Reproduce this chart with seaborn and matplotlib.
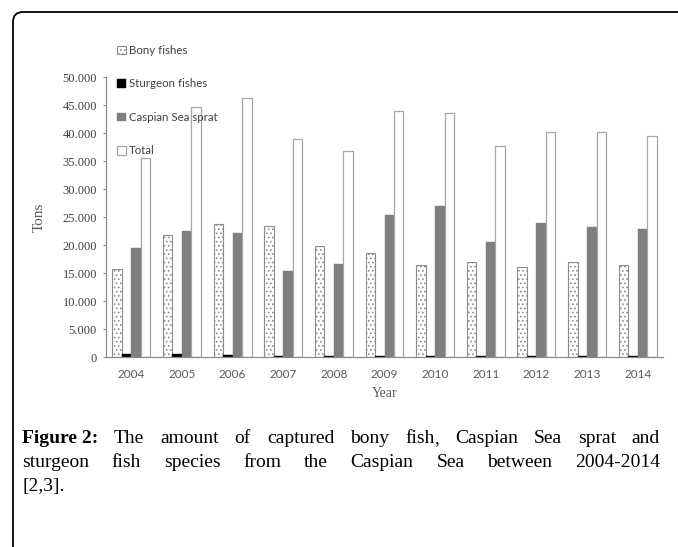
import matplotlib
matplotlib.use("Agg")
import matplotlib.pyplot as plt
import seaborn as sns
import pandas as pd
import numpy as np
from matplotlib.path import Path
from matplotlib.patches import PathPatch
from matplotlib.ticker import FuncFormatter

years = ["2004", "2005", "2006", "2007", "2008", "2009", "2010", "2011", "2012", "2013", "2014"]
series = ["Bony fishes", "Sturgeon fishes", "Caspian Sea sprat", "Total"]
bony = [15700, 21700, 23700, 23400, 19900, 18500, 16400, 16900, 16100, 17000, 16500]
sturgeon = [550, 450, 350, 250, 250, 200, 120, 100, 100, 100, 100]
sprat = [19500, 22500, 22100, 15300, 16600, 25400, 27000, 20600, 24000, 23200, 22800]
total = [35600, 44600, 46200, 39000, 36800, 44000, 43600, 37600, 40100, 40200, 39500]
yticks = [0, 5000, 10000, 15000, 20000, 25000, 30000, 35000, 40000, 45000, 50000]

df = pd.DataFrame({
    "Year": years * 4,
    "Tons": bony + sturgeon + sprat + total,
    "Series": sum([[s] * len(years) for s in series], []),
})

sns.set_style("white")
plt.rcParams["hatch.linewidth"] = 0.7
W, H = 678, 547
fig = plt.figure(figsize=(W / 100, H / 100), dpi=100)
ax = fig.add_axes([106 / W, 1 - 357 / H, (663 - 106) / W, (357 - 77) / H])

sns.barplot(data=df, x="Year", y="Tons", hue="Series", hue_order=series,
            palette=["white", "black", "#7f7f7f", "white"], width=0.75,
            saturation=1, ax=ax, legend=False, errorbar=None)

styles = [
    dict(edgecolor="#8c8c8c", hatch="....", lw=0.8),
    dict(edgecolor="black", hatch=None, lw=0.3),
    dict(edgecolor="#7f7f7f", hatch=None, lw=0.3),
    dict(edgecolor="#a6a6a6", hatch=None, lw=0.9),
]
for cont, st in zip(ax.containers, styles):
    for p in cont:
        p.set_edgecolor(st["edgecolor"])
        p.set_linewidth(st["lw"])
        if st["hatch"]:
            p.set_hatch(st["hatch"])

ax.set_ylim(0, 50000)
ax.set_yticks(yticks)
ax.yaxis.set_major_formatter(FuncFormatter(lambda v, pos: f"{int(v):,}".replace(",", ".")))
ax.set_xlim(-0.5, len(years) - 0.5)

for s in ["top", "right"]:
    ax.spines[s].set_visible(False)
for s in ["left", "bottom"]:
    ax.spines[s].set_color("#8c8c8c")
    ax.spines[s].set_linewidth(0.9)

ax.tick_params(axis="y", which="both", left=True, length=2.5, width=0.8, color="#8c8c8c",
               labelcolor="#404040", pad=4)
ax.tick_params(axis="x", bottom=False, length=0, labelcolor="#595959", pad=8.5)
for t in ax.get_yticklabels():
    t.set_family("Liberation Serif")
    t.set_fontsize(9)
for t in ax.get_xticklabels():
    t.set_family("Lato")
    t.set_fontsize(8.5)

ax.set_ylabel("Tons", family="Liberation Serif", fontsize=11, color="#595959", labelpad=12)
ax.set_xlabel("Year", family="Liberation Serif", fontsize=10, color="#595959", labelpad=5)

handles = list(ax.containers)
leg = fig.legend([c[0] for c in handles], series, loc="upper left",
                 bbox_to_anchor=(117 / W, 1 - 45 / H), frameon=False,
                 borderpad=0, borderaxespad=0, handlelength=0.75, handleheight=0.75,
                 handletextpad=0.25, labelspacing=1.95,
                 prop={"family": "Lato", "size": 8.3})
for txt in leg.get_texts():
    txt.set_color("#404040")

# frame (top and left border with rounded corner)
def px(x, y):
    return (x / W, 1 - y / H)
verts = [px(13, 547), px(13, 22), px(13, 12), px(23, 12), px(678, 12)]
codes = [Path.MOVETO, Path.LINETO, Path.CURVE3, Path.CURVE3, Path.LINETO]
fig.patches.append(PathPatch(Path(verts, codes), transform=fig.transFigure,
                             fill=False, lw=1.3, edgecolor="black"))

# caption, justified
renderer = fig.canvas.get_renderer()
cap_size = 14
def word_text(x, y, s, bold=False):
    return fig.text(x / W, 1 - y / H, s, family="Liberation Serif", size=cap_size,
                    weight="bold" if bold else "normal", va="baseline", ha="left", color="black")

def make_word(y, w, bold):
    # split trailing punctuation into its own text piece
    pieces = [w[:-1], w[-1]] if (len(w) > 1 and w[-1] in ",.") else [w]
    arts = [word_text(0, y, p, bold) for p in pieces]
    widths = [a.get_window_extent(renderer).width for a in arts]
    return arts, widths

def justify(words, y, x0=22, x1=660):
    items = [make_word(y, w, b) for w, b in words]
    total_w = sum(sum(ws) for _, ws in items)
    gap = (x1 - x0 - total_w) / (len(items) - 1)
    x = x0
    for arts, ws in items:
        for a, w in zip(arts, ws):
            a.set_x(x / W)
            x += w
        x += gap

line1 = [("Figure 2:", True)] + [(w, False) for w in "The amount of captured bony fish, Caspian Sea sprat and".split()]
line2 = [(w, False) for w in "sturgeon fish species from the Caspian Sea between 2004-2014".split()]
justify(line1, 443)
justify(line2, 467)
word_text(22, 491, "[2,3].")

fig.savefig("out.png", dpi=100)
